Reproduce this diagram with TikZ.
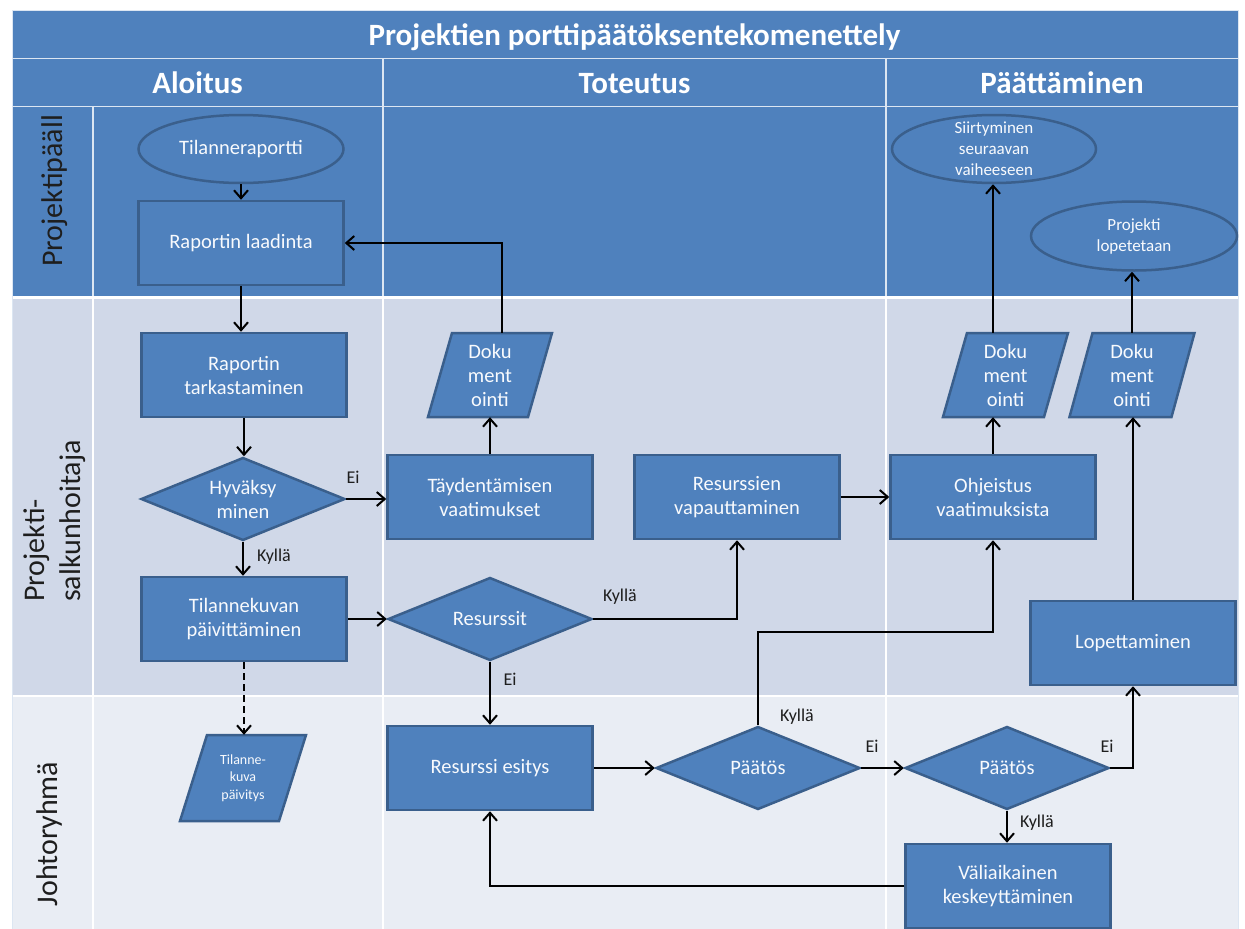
\documentclass[tikz,border=0pt]{standalone}
\usepackage{fontspec}
\setmainfont{Carlito}
\usetikzlibrary{shapes.geometric,arrows.meta,calc}

\definecolor{hdr}{HTML}{4F81BD}
\definecolor{bord}{HTML}{3A5F8C}
\definecolor{laneB}{HTML}{D0D8E8}
\definecolor{laneC}{HTML}{E9EDF4}
\definecolor{sepl}{HTML}{DCE6F2}
\definecolor{intxt}{HTML}{F8FAFD}
\definecolor{labc}{HTML}{1E1E1E}

\newcommand\bxfont{\fontsize{20.5}{24}\selectfont}
\newcommand\smfont{\fontsize{17}{21}\selectfont}
\newcommand\tinyfont{\fontsize{14}{17.5}\selectfont}
\newcommand\hdfont{\fontsize{31}{34}\selectfont\bfseries}
\newcommand\lnfont{\fontsize{30}{36}\selectfont}

% parallelogram (data symbol): centre x, centre y, width, height, slant
\newcommand\paral[5]{%
  \filldraw[parast] (#1-#3/2, #2+#4/2) -- (#1+#3/2-#5, #2+#4/2)
    -- (#1+#3/2, #2-#4/2) -- (#1-#3/2+#5, #2-#4/2) -- cycle;}

\begin{document}
\begin{tikzpicture}[x=1pt,y=-1pt,
  box/.style={rectangle, draw=bord, fill=hdr, line width=2.5pt,
    minimum width=205pt, minimum height=84pt, inner sep=0pt,
    text=intxt, align=center, font=\bxfont},
  dia/.style={diamond, draw=bord, fill=hdr, line width=2.5pt,
    minimum width=204pt, minimum height=83pt, inner sep=0pt},
  ell/.style={ellipse, draw=bord, fill=hdr, line width=2.5pt,
    minimum width=205pt, minimum height=68pt, inner sep=0pt},
  parast/.style={draw=bord, fill=hdr, line width=2.5pt, line join=miter},
  paranode/.style={rectangle, minimum width=124pt, minimum height=84pt,
    inner sep=0pt, text=intxt, align=center, font=\bxfont},
  intext/.style={text=intxt, align=center, font=\bxfont, inner sep=0pt},
  smtext/.style={text=intxt, align=center, font=\smfont, inner sep=0pt},
  lab/.style={text=labc, font=\fontsize{18}{20}\selectfont, inner sep=0pt},
  head/.style={text=white, font=\hdfont, inner sep=0pt, anchor=base},
  lanelbl/.style={text=labc, font=\lnfont, rotate=90, inner sep=0pt},
  conn/.style={draw=black, line width=2pt,
    -{Straight Barb[length=8pt,width=14pt]}},
  sepline/.style={draw=sepl, line width=1.5pt},
  lanegap/.style={draw=white, line width=2pt}
]
\useasboundingbox (0,0) rectangle (1245,929);
\fill[white] (0,0) rectangle (1245,929);

% table background: title, phase header and the three lanes
\fill[hdr] (12,10) rectangle (1238,296);
\fill[laneB] (12,298) rectangle (1238,695.5);
\fill[laneC] (12,697) rectangle (1238,929);
\draw[white, line width=3pt] (12,297.5) -- (1238,297.5);
\draw[lanegap] (12,696.2) -- (1238,696.2);
\draw[sepline] (12,58.5) -- (1238,58.5);
\draw[sepline] (12,106.5) -- (1238,106.5);
\draw[sepline] (383,58.5) -- (383,296);
\draw[sepline] (886,58.5) -- (886,296);
\draw[sepline] (93,106.5) -- (93,296);
\draw[lanegap] (383,299) -- (383,929);
\draw[lanegap] (886,299) -- (886,929);
\draw[lanegap] (93,299) -- (93,929);
\draw[sepline, line width=1pt] (12,10) rectangle (1238,929);

% headings
\node[head] (title) at (634.5,45) {Projektien porttipäätöksentekomenettely};
\node[head] (hAloitus) at (197.5,93) {Aloitus};
\node[head] (hToteutus) at (634.5,93) {Toteutus};
\node[head] (hPaatt) at (1062,93) {Päättäminen};

% lane titles
\node[lanelbl] (lane1) at (55,191) {Projektipääll};
\node[lanelbl, align=left] (lane2) at (55,521) {Projekti-\\salkunhoitaja};
\node[lanelbl] (lane3) at (50,834) {Johtoryhmä};

% lane 1: project manager
\node[ell, label={[intext]center:Tilanneraportti}] (tr) at (241,149) {};
\node[box] (rl) at (241,243) {Raportin laadinta};
\node[ell, minimum width=204pt, label={[smtext]center:{Siirtyminen\\seuraavan\\vaiheeseen}}] (siirt) at (994,149) {};
\node[ell, minimum width=206pt, minimum height=69pt, label={[smtext]center:{Projekti\\lopetetaan}}] (plop) at (1134,236) {};

% lane 2: portfolio manager
\node[box] (rt) at (244,375) {Raportin\\tarkastaminen};
\node[dia, label={[intext]center:{Hyväksy\\minen}}] (hyv) at (243,499) {};
\node[box] (tk) at (244,619) {Tilannekuvan\\päivittäminen};
\paral{490}{375}{124}{84}{24}
\node[paranode] (dok1) at (490,375) {Doku\\ment\\ointi};
\node[box] (tay) at (490,497) {Täydentämisen\\vaatimukset};
\node[dia, label={[intext]center:Resurssit}] (res) at (490,619) {};
\node[box] (rv) at (737,497) {Resurssien\\vapauttaminen};
\node[box] (ohj) at (993,497) {Ohjeistus\\vaatimuksista};
\paral{1005.5}{375}{125}{84}{24}
\node[paranode] (dok2) at (1005.5,375) {Doku\\ment\\ointi};
\paral{1132}{375}{125}{84}{23}
\node[paranode] (dok3) at (1132,375) {Doku\\ment\\ointi};
\node[box] (lop) at (1133,643) {Lopettaminen};

% lane 3: steering group
\paral{243}{778}{126}{86}{27}
\node[paranode, minimum width=126pt, minimum height=86pt, font=\tinyfont] (tkp) at (243,778) {Tilanne-\\kuva\\päivitys};
\node[box] (rese) at (490,768) {Resurssi esitys};
\node[dia, label={[intext]center:Päätös}] (p1) at (758,768) {};
\node[dia, label={[intext]center:Päätös}] (p2) at (1007,768) {};
\node[box] (val) at (1008,886) {Väliaikainen\\keskeyttäminen};

% bend points
\coordinate (k1) at (758,632);

% flow
\draw[conn] (tr.south) -- (rl.north);
\draw[conn] (rl.south) -- (rl.south |- rt.north);
\draw[conn] (rt.south) -- (rt.south |- hyv.north);
\draw[conn] (hyv.east) -- (hyv.east -| tay.west);
\draw[conn] (hyv.south) -- (hyv.south |- tk.north);
\draw[conn] (tk.east) -- (tk.east -| res.west);
\draw[conn] (tay.north) -- (dok1.south);
\draw[conn] ([xshift=12pt]dok1.north) |- (rl.east);
\draw[conn] (res.east) -| (rv.south);
\draw[conn] (res.south) -- (rese.north);
\draw[conn] (rv.east) -- (ohj.west);
\draw[conn] (ohj.north) -- (ohj.north |- dok2.south);
\draw[conn] (ohj.north |- dok2.north) -- (ohj.north |- siirt.south);
\draw[conn] (rese.east) -- (p1.west);
\draw[conn] (p1.north) -- (k1) -| (ohj.south);
\draw[conn] (p1.east) -- (p2.west);
\draw[conn] (p2.east) -| (lop.south);
\draw[conn] (p2.south) -- (p2.south |- val.north);
\draw[conn] (val.west) -| (rese.south);
\draw[conn] (lop.north) -- (lop.north |- dok3.south);
\draw[conn] (dok3.north) -- (dok3.north |- plop.south);
\draw[conn, dash pattern=on 7pt off 4pt] (tk.south) -- (tk.south |- tkp.north);

% branch labels
\node[lab] (eiHyv) at (353,477) {Ei};
\node[lab] (kyHyv) at (274,557) {Kyllä};
\node[lab] (kyRes) at (620,597) {Kyllä};
\node[lab] (eiRes) at (510,679) {Ei};
\node[lab] (kyP1) at (797,717) {Kyllä};
\node[lab] (eiP1) at (872,746) {Ei};
\node[lab] (eiP2) at (1107,746) {Ei};
\node[lab] (kyP2) at (1037,823) {Kyllä};
\end{tikzpicture}
\end{document}
